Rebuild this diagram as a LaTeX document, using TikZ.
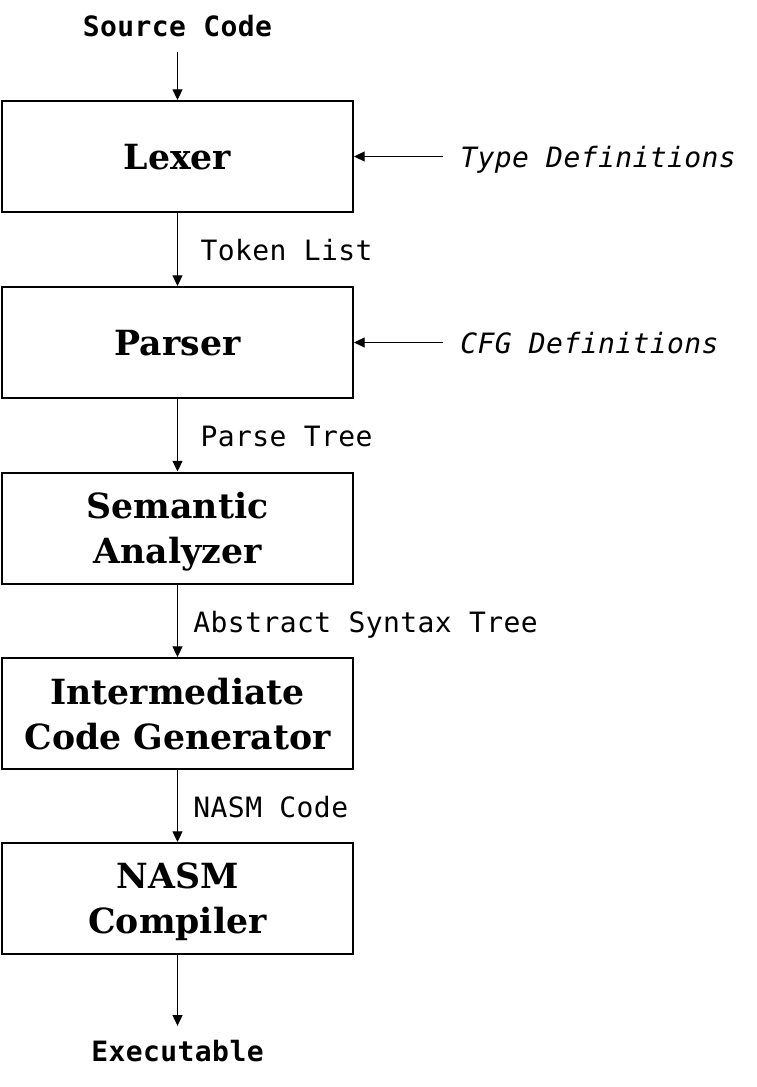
\documentclass[tikz,border=0pt]{standalone}
\usepackage{fontspec}
\usetikzlibrary{arrows.meta}
\newfontfamily\boxfont{DejaVu Serif}
\newfontfamily\monofont[LetterSpace=1.5]{DejaVu Sans Mono}
\begin{document}
\begin{tikzpicture}[x=0.75pt,y=-0.75pt,
  stage/.style={draw, line width=1.5pt, minimum width=263.25pt, minimum height=83.25pt,
    inner sep=0pt, align=center, text depth=0pt,
    font=\boxfont\bfseries\fontsize{26}{33.75}\selectfont},
  arr/.style={-{Triangle[length=8pt,width=7.5pt]}, line width=0.75pt},
  lbl/.style={font=\monofont\fontsize{21}{24}\selectfont, anchor=west, inner sep=0pt,
    text height=17pt, text depth=0pt},
  side/.style={font=\monofont\itshape\fontsize{21}{24}\selectfont, anchor=west,
    inner xsep=12.75pt, inner ysep=0pt, text height=16pt, text depth=0pt},
  io/.style={font=\monofont\bfseries\fontsize{21}{24}\selectfont, anchor=base,
    inner xsep=0pt, text height=15.5pt, text depth=0pt}]
\useasboundingbox (0,0) rectangle (756,1087);

\node[stage] (lexer) at (177.5,156.5) {Lexer};
\node[stage] (parser) at (177.5,342.5) {Parser};
\node[stage] (sem) at (177.5,528) {Semantic\\Analyzer};
\node[stage] (icg) at (177.5,713.5) {Intermediate\\Code Generator};
\node[stage] (nasm) at (177.5,898.5) {NASM\\Compiler};

\node[io, inner ysep=11.25pt] (src) at (177.5,37) {Source Code};
\node[io, inner ysep=10.7pt] (exe) at (177.5,1061) {Executable};

\node[side] (typedef) at (443,156.5) {Type Definitions};
\node[side] (cfgdef) at (443,342.5) {CFG Definitions};

\draw[arr] (src.south) -- (lexer.north);
\draw[arr] (typedef.west) -- (lexer.east);
\draw[arr] (cfgdef.west) -- (parser.east);
\draw[arr] (lexer) -- node[lbl, xshift=16.9pt] (l1) {Token List} (parser);
\draw[arr] (parser) -- node[lbl, xshift=16.9pt] (l2) {Parse Tree} (sem);
\draw[arr] (sem) -- node[lbl, xshift=11.6pt] (l3) {Abstract Syntax Tree} (icg);
\draw[arr] (icg) -- node[lbl, xshift=11.6pt] (l4) {NASM Code} (nasm);
\draw[arr] (nasm.south) -- (exe.north);
\end{tikzpicture}
\end{document}
